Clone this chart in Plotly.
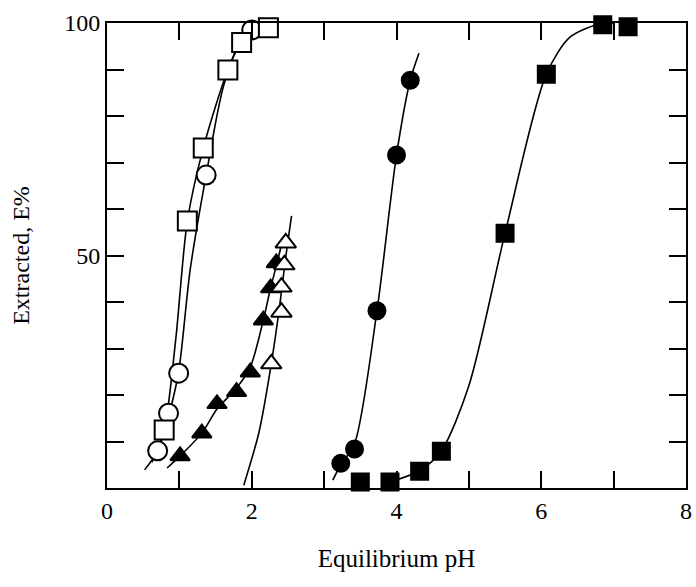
import plotly.graph_objects as go

# ---- data ----
oc_x = [0.70, 0.85, 0.99, 1.37, 2.00]
oc_y = [8.0, 16.1, 24.7, 67.3, 98.5]
os_x = [0.79, 1.11, 1.33, 1.67, 1.86, 2.23]
os_y = [12.5, 57.4, 73.1, 89.9, 95.8, 99.0]
ft_x = [1.01, 1.31, 1.52, 1.79, 1.98, 2.16, 2.26, 2.34]
ft_y = [6.9, 11.8, 18.1, 20.7, 24.9, 36.1, 43.0, 48.4]
ot_x = [2.27, 2.41, 2.41, 2.45, 2.47]
ot_y = [26.7, 37.8, 43.2, 48.0, 52.7]
fc_x = [3.23, 3.42, 3.73, 4.00, 4.19]
fc_y = [5.3, 8.4, 38.1, 71.6, 87.7]
fs_x = [3.50, 3.91, 4.32, 4.62, 5.50, 6.07, 6.85, 7.20]
fs_y = [1.3, 1.3, 3.6, 7.9, 54.8, 89.0, 99.6, 99.2]

# fitted curves
oc_cx = [0.52, 0.70, 0.86, 0.99, 1.15, 1.37, 1.62, 1.90, 2.20]
oc_cy = [3.9, 8.0, 16.0, 25.0, 47.0, 67.3, 87.0, 97.5, 99.8]
os_cx = [0.62, 0.79, 0.95, 1.11, 1.33, 1.67, 1.86, 2.30]
os_cy = [5.5, 12.5, 32.0, 57.4, 73.1, 89.9, 95.8, 99.8]
ft_cx = [0.83, 1.01, 1.31, 1.52, 1.79, 1.98, 2.16, 2.26, 2.36, 2.42]
ft_cy = [4.3, 6.9, 11.8, 17.0, 21.5, 26.0, 36.1, 43.0, 49.0, 53.0]
ot_cx = [1.89, 2.10, 2.27, 2.38, 2.44, 2.49, 2.55]
ot_cy = [0.6, 12.0, 26.7, 38.5, 46.0, 52.0, 58.5]
fc_cx = [3.12, 3.23, 3.42, 3.73, 4.00, 4.19, 4.31]
fc_cy = [1.7, 5.0, 9.5, 38.1, 71.6, 87.7, 93.5]
fs_cx = [3.95, 4.32, 4.62, 5.00, 5.50, 6.07, 6.40, 6.80, 7.00]
fs_cy = [1.5, 3.7, 8.0, 22.0, 54.8, 89.0, 97.0, 99.8, 100.0]

x_ticks = [0, 1, 2, 3, 4, 5, 6, 7, 8]
x_text = ["0", "", "2", "", "4", "", "6", "", "8"]
y_ticks = [0, 10, 20, 30, 40, 50, 60, 70, 80, 90, 100]
y_text = ["", "", "", "", "", "50", "", "", "", "", "100"]

fig = go.Figure()
for cx, cy in [(oc_cx, oc_cy), (os_cx, os_cy), (ft_cx, ft_cy), (ot_cx, ot_cy), (fc_cx, fc_cy), (fs_cx, fs_cy)]:
    fig.add_trace(go.Scatter(x=cx, y=cy, mode="lines", line=dict(color="black", width=1.6, shape="spline", smoothing=0.8),
                             showlegend=False, hoverinfo="skip"))

def mk(x, y, sym, fill, size):
    fig.add_trace(go.Scatter(x=x, y=y, mode="markers", cliponaxis=False, showlegend=False,
                             marker=dict(symbol=sym, size=size, color=fill,
                                         line=dict(color="black", width=2))))

mk(ft_x, ft_y, "triangle-up", "black", 17)
mk(ot_x, ot_y, "triangle-up", "white", 18)
mk(oc_x, oc_y, "circle", "white", 19)
mk(os_x, os_y, "square", "white", 19)
mk(fc_x, fc_y, "circle", "black", 17)
mk(fs_x, fs_y, "square", "black", 17)

fig.update_layout(
    width=696, height=587,
    margin=dict(l=107, r=4, t=23, b=99),
    paper_bgcolor="white", plot_bgcolor="white",
    font=dict(family="Liberation Serif", color="black"),
)
fig.update_xaxes(range=[0, 8], tickvals=x_ticks, ticktext=x_text, ticks="inside", ticklen=17,
                 tickwidth=1.5, tickcolor="black", showline=True, linecolor="black", linewidth=2,
                 mirror="ticks", showgrid=False, zeroline=False, tickfont=dict(size=24),
                 title=dict(text="Equilibrium pH", font=dict(size=25), standoff=27))
fig.update_yaxes(range=[0, 100], tickvals=y_ticks, ticktext=y_text, ticks="inside", ticklen=17,
                 tickwidth=1.5, tickcolor="black", showline=True, linecolor="black", linewidth=2,
                 mirror="ticks", showgrid=False, zeroline=False, tickfont=dict(size=24),
                 title=dict(text="Extracted, E%", font=dict(size=24), standoff=28))

fig.write_html("out.html")
